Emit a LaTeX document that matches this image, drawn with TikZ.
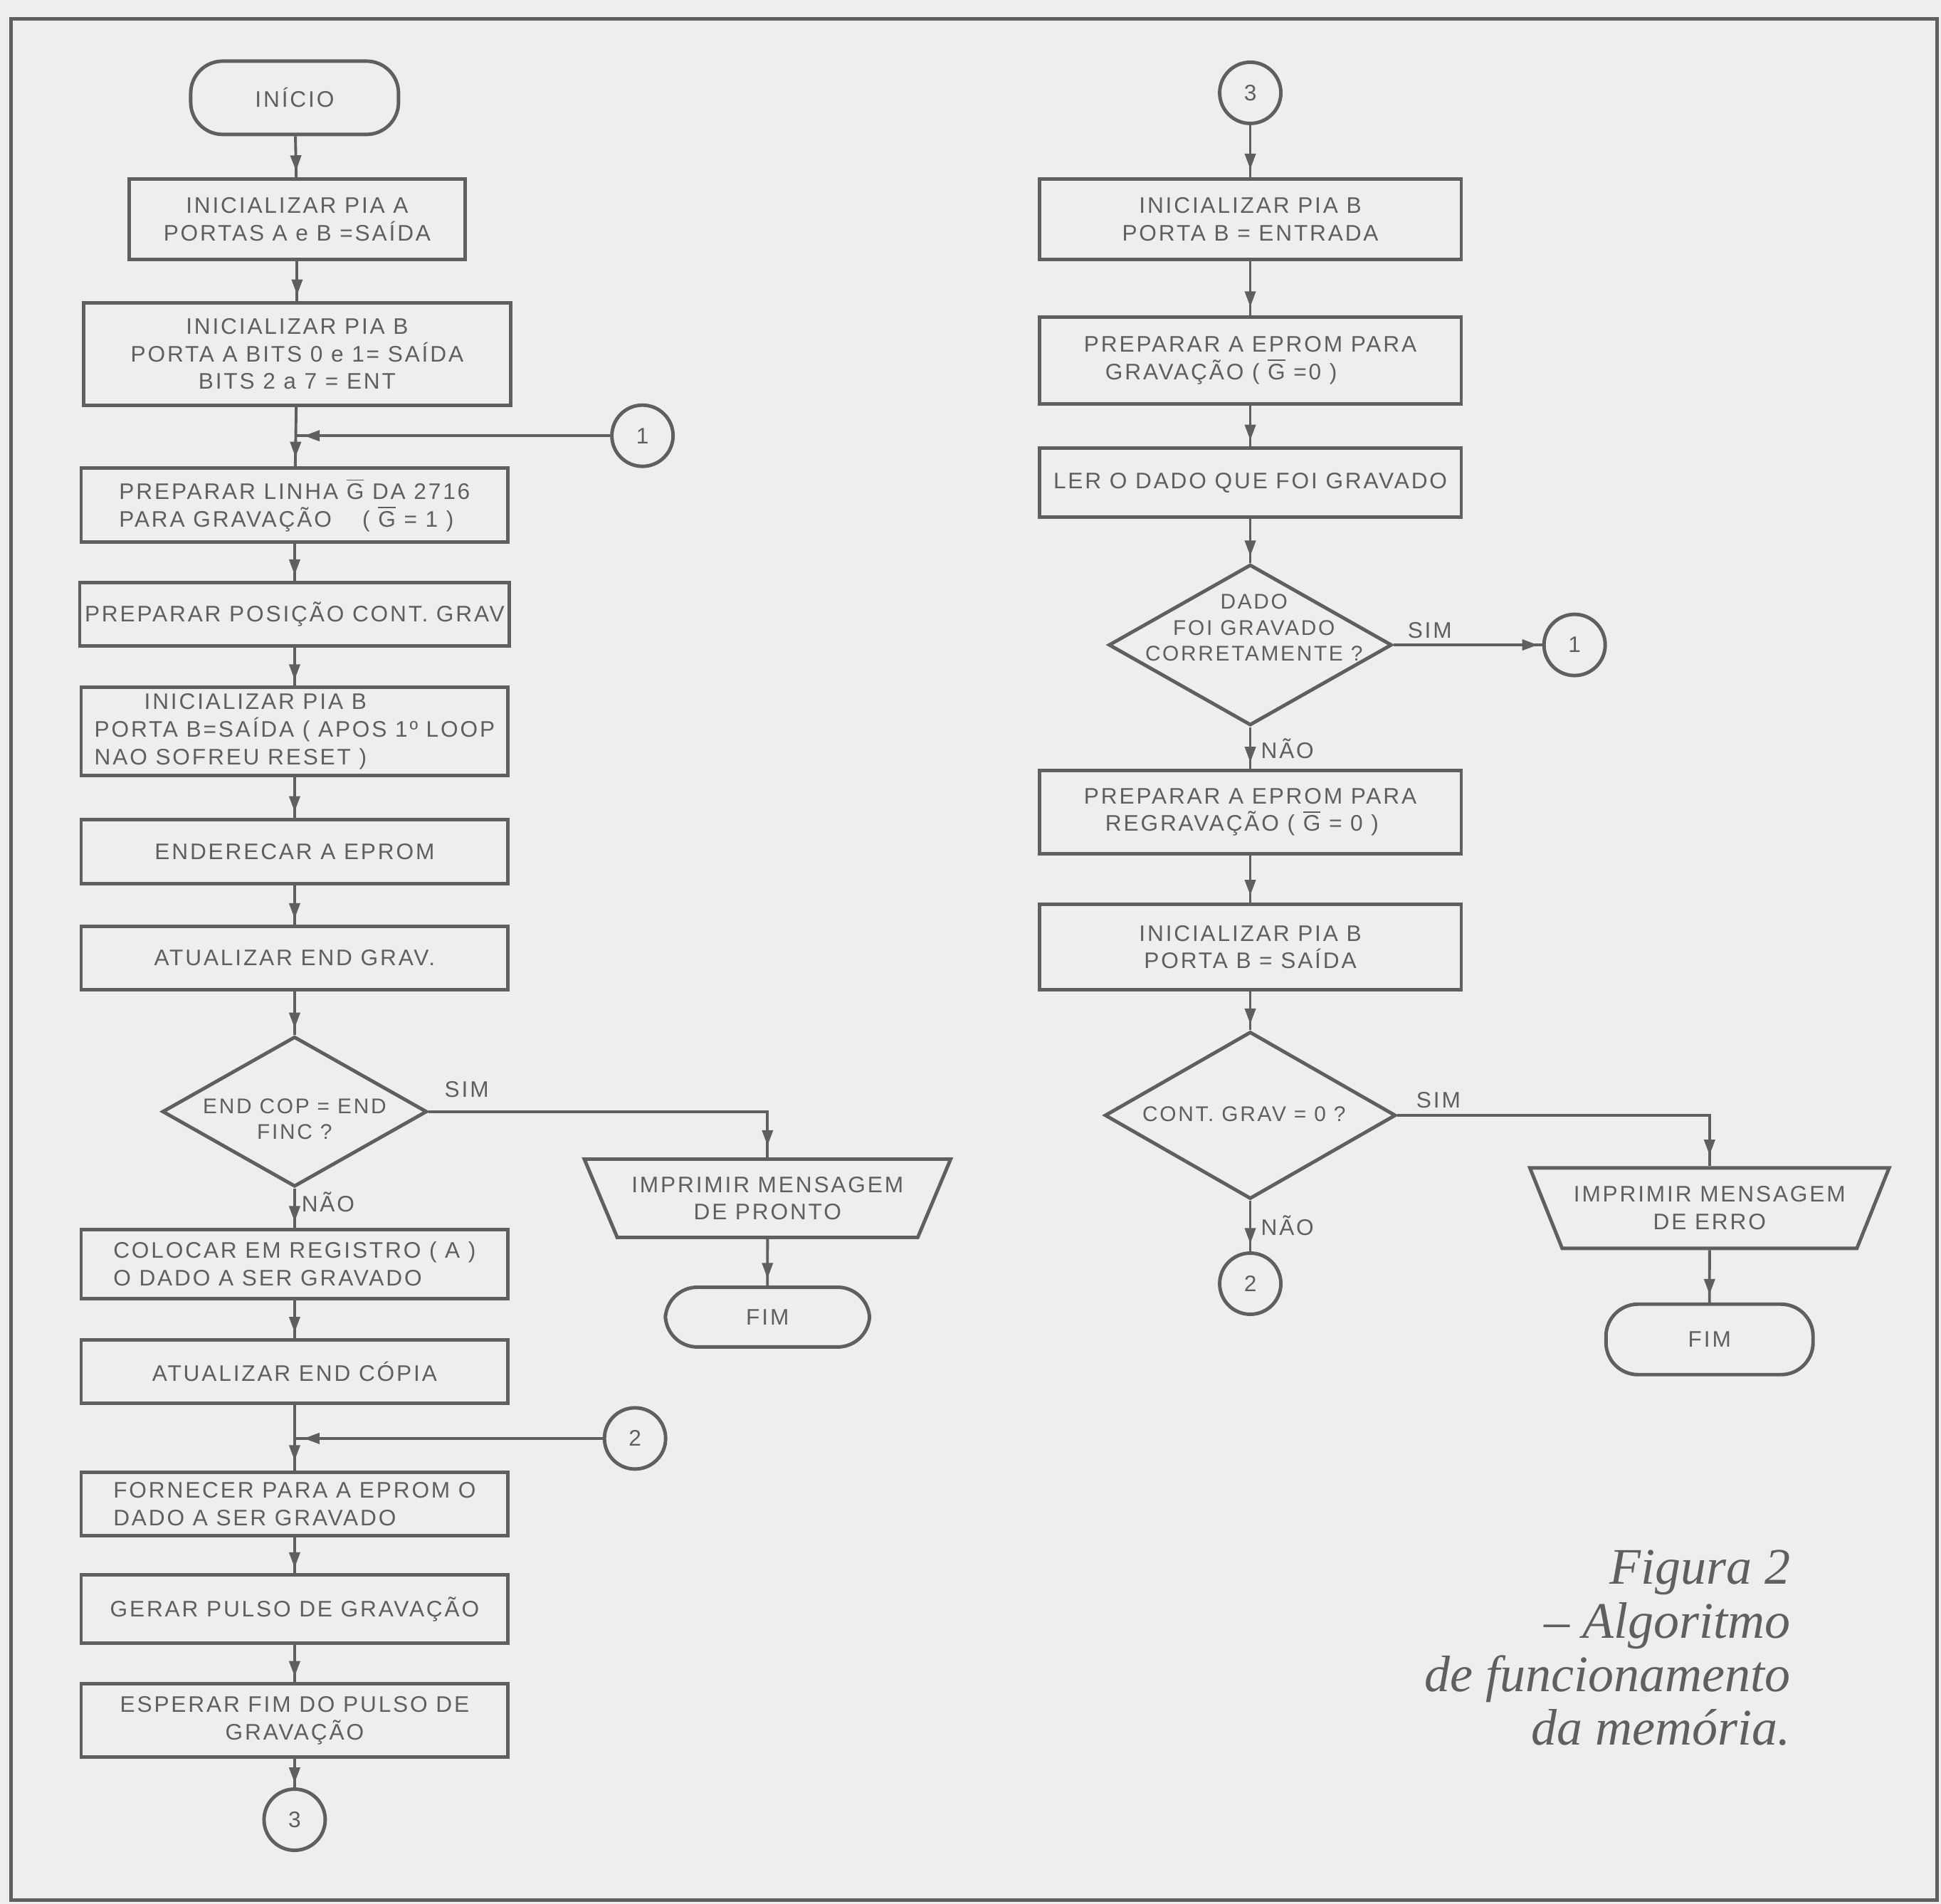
\documentclass[tikz,border=0pt]{standalone}
\usepackage{fontspec}
\usepackage{tikz}
\usetikzlibrary{arrows.meta,positioning,shapes.geometric,decorations.markings}

\newfontfamily\lettering[LetterSpace=9]{Liberation Sans}
\newfontfamily\capfont{Liberation Serif}
\definecolor{ink}{HTML}{5F5F5F}
\definecolor{paper}{HTML}{EEEEEE}
\newcommand{\gbar}{$\overline{\mbox{G}}$}

\begin{document}
\begin{tikzpicture}[
  x=0.0174cm, y=-0.0174cm,
  txt/.style={font={\lettering\fontsize{9}{11}\selectfont}, text=ink,
              inner sep=2pt, align=center},
  dtxt/.style={txt, font={\lettering\fontsize{8.5}{10.5}\selectfont}},
  proc/.style={txt, rectangle, draw=ink, line width=1.4pt, minimum width=6cm},
  term/.style={txt, rectangle, rounded corners=0.45cm, draw=ink, line width=1.4pt},
  dec/.style={diamond, draw=ink, line width=1.4pt, inner sep=0pt},
  outp/.style={txt, trapezium, trapezium angle=60, shape border rotate=180,
               trapezium stretches=true, draw=ink, line width=1.4pt},
  conn/.style={txt, circle, draw=ink, line width=1.4pt, minimum size=0.86cm,
               inner sep=0pt},
  lab/.style={txt},
  flow/.style={draw, color=ink, line width=1.1pt, postaction={decorate},
    decoration={markings, mark=at position #1 with
      {\arrow{Triangle[length=2.2mm,width=1.5mm]}}}},
  flow/.default=0.85,
]
  % Page and frame
  \fill[paper] (0,0) rectangle (1568,1538);
  \useasboundingbox (0,0) rectangle (1568,1538);
  \draw[ink, line width=1.4pt] (9,15) rectangle (1565,1535);

  % Left column
  \node[term, minimum width=2.92cm, minimum height=1.03cm] (start) at (238,79) {INÍCIO};
  \node[proc, minimum width=4.72cm, minimum height=1.13cm] (pa) at (240,177)
    {INICIALIZAR PIA A\\PORTAS A e B =SAÍDA};
  \node[proc, minimum height=1.44cm] (pb) at (240,286)
    {INICIALIZAR PIA B\\PORTA A BITS 0 e 1= SAÍDA\\BITS 2 a 7 = ENT};
  \coordinate (m1) at (238,352);
  \node[proc, minimum height=1.04cm, align=left] (lg) at (238,408)
    {PREPARAR LINHA \gbar{} DA 2716\\PARA GRAVAÇÃO \quad ( \gbar{} = 1 )};
  \node[proc, minimum height=0.89cm] (pos) at (238,496) {PREPARAR POSIÇÃO CONT. GRAV};
  \node[proc, minimum height=1.24cm, align=left] (pc) at (238,591)
    {\hspace*{0.7cm}INICIALIZAR PIA B\\PORTA B=SAÍDA ( APOS 1º LOOP\\NAO SOFREU RESET )};
  \node[proc, minimum height=0.9cm] (ender) at (238,688) {ENDERECAR A EPROM};
  \node[proc, minimum height=0.89cm] (atg) at (238,774) {ATUALIZAR END GRAV.};
  \node[dec, minimum width=3.72cm, minimum height=2.11cm] (d1) at (238,898) {};
  \node[dtxt] (d1t) at (238,904) {END COP = END\\FINC ?};
  \node[lab] (sim1) at (377,880) {SIM};
  \node[lab] (nao1) at (265,971) {NÃO};
  \node[outp, minimum width=5.15cm, minimum height=1.1cm] (t1) at (620,968)
    {IMPRIMIR MENSAGEM\\DE PRONTO};
  \node[term, minimum width=2.87cm, minimum height=0.84cm] (fim1) at (620,1064) {FIM};
  \node[proc, minimum height=0.97cm, align=left] (col) at (238,1021)
    {COLOCAR EM REGISTRO ( A )\\O DADO A SER GRAVADO};
  \node[proc, minimum height=0.89cm] (atc) at (238,1108) {ATUALIZAR END CÓPIA};
  \coordinate (m2) at (238,1162);
  \node[proc, minimum height=0.89cm, align=left] (forn) at (238,1215)
    {FORNECER PARA A EPROM O\\DADO A SER GRAVADO};
  \node[proc, minimum height=0.96cm] (ger) at (238,1300) {GERAR PULSO DE GRAVAÇÃO};
  \node[proc, minimum height=1.03cm] (esp) at (238,1390)
    {ESPERAR FIM DO PULSO DE\\GRAVAÇÃO};
  \node[conn] (c3) at (238,1470) {3};
  \node[conn] (c1) at (519,352) {1};
  \node[conn] (c2) at (513,1162) {2};

  % Right column
  \node[conn] (c3r) at (1010,75) {3};
  \node[proc, minimum width=5.93cm, minimum height=1.13cm] (rb1) at (1010,177)
    {INICIALIZAR PIA B\\PORTA B = ENTRADA};
  \node[proc, minimum width=5.93cm, minimum height=1.22cm, align=left] (rb2) at (1010,291)
    {PREPARAR A EPROM PARA\\\hspace*{0.3cm}GRAVAÇÃO ( \gbar{} =0 )};
  \node[proc, minimum width=5.93cm, minimum height=0.97cm] (rb3) at (1010,390)
    {LER O DADO QUE FOI GRAVADO};
  \node[dec, minimum width=3.98cm, minimum height=2.26cm] (d2) at (1010,521) {};
  \node[dtxt] (d2t) at (1013,507) {DADO\\FOI GRAVADO\\CORRETAMENTE ?};
  \node[lab] (sim2) at (1155,509) {SIM};
  \node[conn] (c1r) at (1272,521) {1};
  \node[lab] (nao2) at (1040,605) {NÃO};
  \node[proc, minimum width=5.93cm, minimum height=1.17cm, align=left] (rb4) at (1010,656)
    {PREPARAR A EPROM PARA\\\hspace*{0.3cm}REGRAVAÇÃO ( \gbar{} = 0 )};
  \node[proc, minimum width=5.93cm, minimum height=1.2cm] (rb5) at (1010,765)
    {INICIALIZAR PIA B\\PORTA B = SAÍDA};
  \node[dec, minimum width=4.09cm, minimum height=2.35cm] (d3) at (1010,901) {};
  \node[dtxt] (d3t) at (1005,900) {CONT. GRAV = 0 ?};
  \node[lab] (sim3) at (1162,889) {SIM};
  \node[lab] (nao3) at (1040,990) {NÃO};
  \node[conn] (c2r) at (1010,1037) {2};
  \node[outp, minimum width=5.05cm, minimum height=1.13cm] (t2) at (1381,976)
    {IMPRIMIR MENSAGEM\\DE ERRO};
  \node[term, minimum width=2.91cm, minimum height=0.99cm] (fim2) at (1381,1082) {FIM};

  % Caption
  \node[font={\capfont\itshape\fontsize{20.5}{21.4}\selectfont}, text=ink, align=right,
        anchor=north east, inner sep=0pt] (cap) at (1447,1252)
    {Figura 2\\– Algoritmo\\de funcionamento\\da memória.};

  % Flow, left column
  \draw[flow] (start) -- (pa);
  \draw[flow] (pa) -- (pb);
  \draw[flow] (pb) -- (lg);
  \draw[flow=0.97] (c1) -- (m1);
  \draw[flow] (lg) -- (pos);
  \draw[flow] (pos) -- (pc);
  \draw[flow] (pc) -- (ender);
  \draw[flow] (ender) -- (atg);
  \draw[flow] (atg) -- (d1);
  \draw[flow=0.97] (d1.east) -| (t1.north);
  \draw[flow] (t1) -- (fim1);
  \draw[flow] (d1) -- (col);
  \draw[flow] (col) -- (atc);
  \draw[flow] (atc) -- (forn);
  \draw[flow=0.97] (c2) -- (m2);
  \draw[flow] (forn) -- (ger);
  \draw[flow] (ger) -- (esp);
  \draw[flow] (esp) -- (c3);

  % Flow, right column
  \draw[flow] (c3r) -- (rb1);
  \draw[flow] (rb1) -- (rb2);
  \draw[flow] (rb2) -- (rb3);
  \draw[flow] (rb3) -- (d2);
  \draw[flow=0.97] (d2) -- (c1r);
  \draw[flow] (d2) -- (rb4);
  \draw[flow] (rb4) -- (rb5);
  \draw[flow] (rb5) -- (d3);
  \draw[flow=0.97] (d3.east) -| (t2.north);
  \draw[flow] (d3) -- (c2r);
  \draw[flow] (t2) -- (fim2);
\end{tikzpicture}
\end{document}
